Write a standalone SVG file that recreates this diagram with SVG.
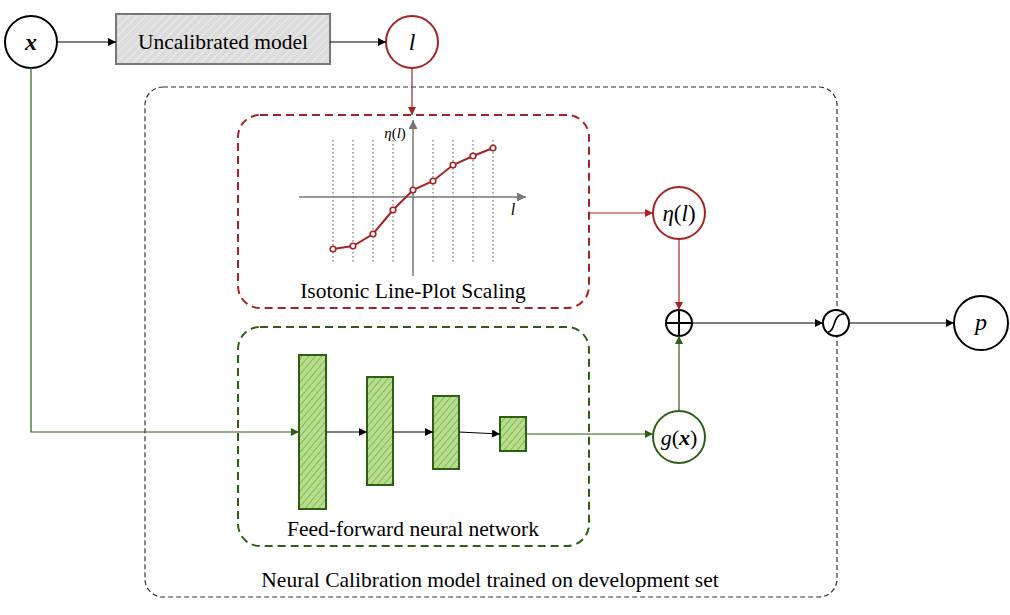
<svg xmlns="http://www.w3.org/2000/svg" width="1010" height="615" viewBox="0 0 1010 615">
<style>
.t{font-family:"Liberation Serif","DejaVu Serif",serif;fill:#000}
.node{fill:#fff;stroke-width:2}
.blk{stroke:#000}
.red{stroke:#a52326}
.grn{stroke:#2f5f14}
.ln{fill:none;stroke-width:1.2}
.bar{fill:url(#hg);stroke:#2f5f14;stroke-width:2}
.dot{fill:#fff;stroke:#a52326;stroke-width:1.6}
.vd{stroke:#555;stroke-width:1;stroke-dasharray:1.5 2.5}
</style>
<defs>
<pattern id="hgray" width="6" height="6" patternUnits="userSpaceOnUse" patternTransform="rotate(45)">
<rect width="6" height="6" fill="#dcdcdc"/><line x1="0" y1="0" x2="0" y2="6" stroke="#f2f2f2" stroke-width="1.5"/>
</pattern>
<pattern id="hg" width="5" height="5" patternUnits="userSpaceOnUse" patternTransform="rotate(40)">
<rect width="5" height="5" fill="#b9dc92"/><line x1="0" y1="0" x2="0" y2="5" stroke="#7cbf45" stroke-width="2"/>
</pattern>
<marker id="ab" viewBox="0 0 10 10" refX="10" refY="5" markerWidth="10" markerHeight="8" orient="auto" markerUnits="userSpaceOnUse"><path d="M0,0L10,5L0,10z" fill="#000"/></marker>
<marker id="ar" viewBox="0 0 10 10" refX="10" refY="5" markerWidth="10" markerHeight="8" orient="auto" markerUnits="userSpaceOnUse"><path d="M0,0L10,5L0,10z" fill="#a52326"/></marker>
<marker id="ag" viewBox="0 0 10 10" refX="10" refY="5" markerWidth="10" markerHeight="8" orient="auto" markerUnits="userSpaceOnUse"><path d="M0,0L10,5L0,10z" fill="#2f5f14"/></marker>
<marker id="agy" viewBox="0 0 10 10" refX="10" refY="5" markerWidth="10" markerHeight="9" orient="auto" markerUnits="userSpaceOnUse"><path d="M0,0L10,5L0,10z" fill="#777"/></marker>
</defs>
<rect width="1010" height="615" fill="#fff"/>

<g id="outer">
<rect x="145" y="87" width="692" height="510" rx="18" fill="none" stroke="#333" stroke-width="1.2" stroke-dasharray="5 3"/>
<text class="t" x="490" y="587" font-size="21.5" text-anchor="middle">Neural Calibration model trained on development set</text>
</g>

<g id="iso">
<rect x="238" y="115" width="351" height="193" rx="22" fill="none" stroke="#a52326" stroke-width="2" stroke-dasharray="8 5"/>
<g>
<line class="vd" x1="333" y1="140" x2="333" y2="262"/>
<line class="vd" x1="353" y1="140" x2="353" y2="262"/>
<line class="vd" x1="373" y1="140" x2="373" y2="262"/>
<line class="vd" x1="393" y1="140" x2="393" y2="262"/>
<line class="vd" x1="433" y1="140" x2="433" y2="262"/>
<line class="vd" x1="453" y1="140" x2="453" y2="262"/>
<line class="vd" x1="473" y1="140" x2="473" y2="262"/>
<line class="vd" x1="493" y1="140" x2="493" y2="262"/>
<line x1="413" y1="276" x2="413" y2="120" stroke="#777" stroke-width="1.5" marker-end="url(#agy)"/>
<line x1="299" y1="197" x2="526" y2="197" stroke="#777" stroke-width="1.5" marker-end="url(#agy)"/>
<polyline points="333,249 353,246 373,234 393,210 413,190 433,181 453,165 473,156 493,148" fill="none" stroke="#a52326" stroke-width="2"/>
<circle class="dot" cx="333" cy="249" r="2.8"/><circle class="dot" cx="353" cy="246" r="2.8"/><circle class="dot" cx="373" cy="234" r="2.8"/><circle class="dot" cx="393" cy="210" r="2.8"/><circle class="dot" cx="413" cy="190" r="2.8"/><circle class="dot" cx="433" cy="181" r="2.8"/><circle class="dot" cx="453" cy="165" r="2.8"/><circle class="dot" cx="473" cy="156" r="2.8"/><circle class="dot" cx="493" cy="148" r="2.8"/>
<text class="t" x="395" y="138" font-size="15" text-anchor="middle" fill="#333"><tspan font-style="italic">η</tspan>(<tspan font-style="italic">l</tspan>)</text>
<text class="t" x="513" y="215" font-size="16" font-style="italic" text-anchor="middle" fill="#333">l</text>
</g>
<text class="t" x="413" y="298" font-size="21.5" text-anchor="middle">Isotonic Line-Plot Scaling</text>
</g>

<g id="ffnn">
<rect x="238" y="327" width="351" height="219" rx="22" fill="none" stroke="#2f5f14" stroke-width="2" stroke-dasharray="8 5"/>
<rect class="bar" x="299" y="355" width="27" height="154"/>
<rect class="bar" x="367" y="377" width="26" height="108"/>
<rect class="bar" x="433" y="396" width="26" height="73"/>
<rect class="bar" x="500" y="417" width="26" height="34"/>
<text class="t" x="413" y="536" font-size="21.5" text-anchor="middle">Feed-forward neural network</text>
</g>

<g id="n-x"><circle class="node blk" cx="31" cy="42" r="26"/><text class="t" x="31" y="50" font-size="24" font-style="italic" font-weight="bold" text-anchor="middle">x</text></g>
<g id="n-model"><rect x="116" y="14" width="214" height="50" fill="url(#hgray)" stroke="#777" stroke-width="2"/><text class="t" x="223" y="49" font-size="21.5" text-anchor="middle">Uncalibrated model</text></g>
<g id="n-l"><circle class="node red" cx="412" cy="42" r="26"/><text class="t" x="412" y="50" font-size="24" font-style="italic" text-anchor="middle">l</text></g>
<g id="n-eta"><circle class="node red" cx="679" cy="213" r="26"/><text class="t" x="679" y="221" font-size="23" text-anchor="middle"><tspan font-style="italic">η</tspan>(<tspan font-style="italic">l</tspan>)</text></g>
<g id="n-plus"><circle class="node blk" cx="679" cy="323" r="13"/><line x1="666" y1="323" x2="692" y2="323" stroke="#000" stroke-width="2"/><line x1="679" y1="310" x2="679" y2="336" stroke="#000" stroke-width="2"/></g>
<g id="n-g"><circle class="node grn" cx="679" cy="437" r="26"/><text class="t" x="679" y="445" font-size="22" text-anchor="middle"><tspan font-style="italic">g</tspan>(<tspan font-style="italic" font-weight="bold">x</tspan>)</text></g>
<g id="n-sig"><circle class="node blk" cx="836" cy="323" r="13"/><path d="M828,332 C836,332 832,314 844,314" fill="none" stroke="#000" stroke-width="1.6"/></g>
<g id="n-p"><circle class="node blk" cx="981" cy="323" r="27"/><text class="t" x="981" y="330" font-size="24" font-style="italic" text-anchor="middle">p</text></g>

<g id="connectors">
<line class="ln" x1="57" y1="42" x2="116" y2="42" stroke="#000" marker-end="url(#ab)"/>
<line class="ln" x1="330" y1="42" x2="386" y2="42" stroke="#000" marker-end="url(#ab)"/>
<line class="ln" x1="412" y1="68" x2="412" y2="115" stroke="#a52326" marker-end="url(#ar)"/>
<polyline class="ln" points="31,68 31,432 299,432" stroke="#2f5f14" marker-end="url(#ag)"/>
<line class="ln" x1="326" y1="432" x2="367" y2="432" stroke="#000" marker-end="url(#ab)"/>
<line class="ln" x1="393" y1="432" x2="433" y2="432" stroke="#000" marker-end="url(#ab)"/>
<line class="ln" x1="459" y1="432" x2="500" y2="434" stroke="#000" marker-end="url(#ab)"/>
<line class="ln" x1="526" y1="434" x2="653" y2="434" stroke="#2f5f14" marker-end="url(#ag)"/>
<line class="ln" x1="589" y1="213" x2="653" y2="213" stroke="#a52326" marker-end="url(#ar)"/>
<line class="ln" x1="679" y1="239" x2="679" y2="310" stroke="#a52326" marker-end="url(#ar)"/>
<line class="ln" x1="679" y1="411" x2="679" y2="336" stroke="#2f5f14" marker-end="url(#ag)"/>
<line class="ln" x1="692" y1="323" x2="823" y2="323" stroke="#000" marker-end="url(#ab)"/>
<line class="ln" x1="849" y1="323" x2="954" y2="323" stroke="#000" marker-end="url(#ab)"/>
</g>
</svg>
